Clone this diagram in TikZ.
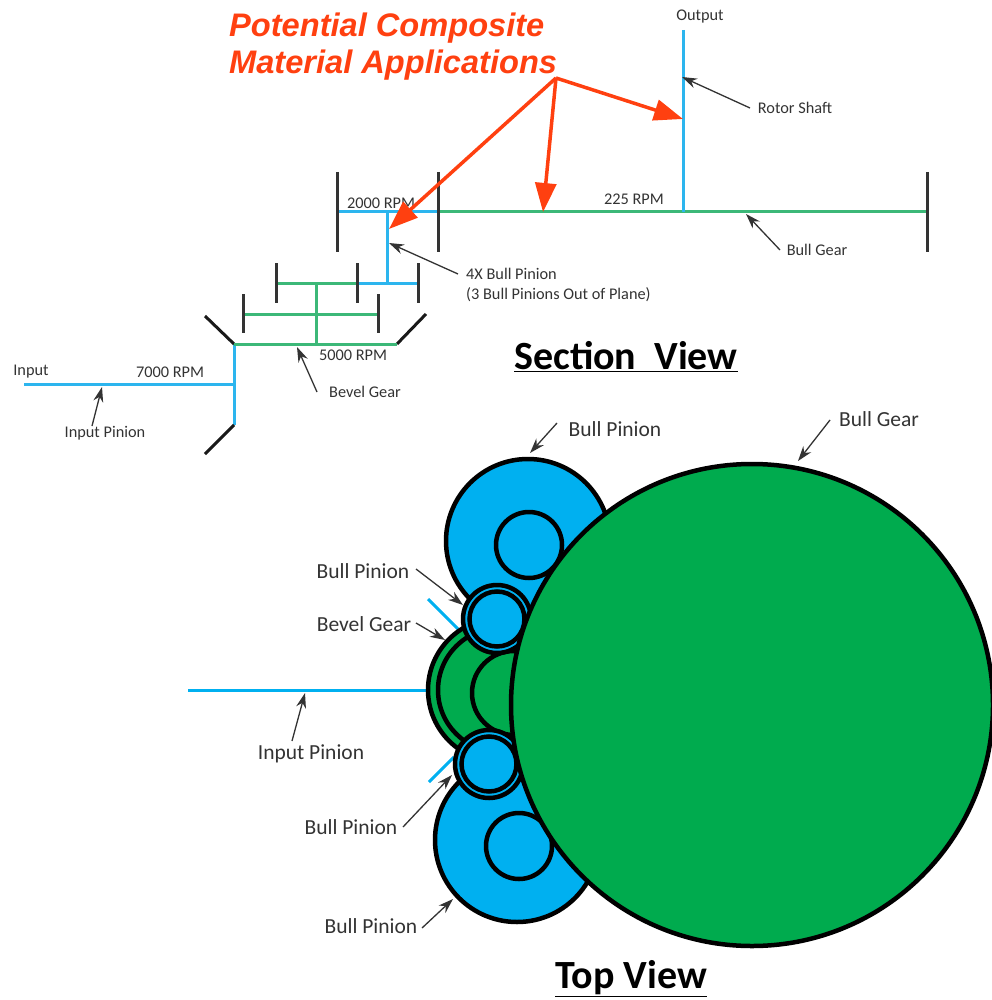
\documentclass[tikz,border=0pt]{standalone}
\usepackage{fontspec}
\setmainfont{Carlito}
\newfontfamily\headfont{Liberation Sans}
\usetikzlibrary{arrows.meta}
\definecolor{skyb}{HTML}{00B0F0}
\definecolor{gearg}{HTML}{00AB4E}
\definecolor{shaftb}{HTML}{2CB5EE}
\definecolor{shaftg}{HTML}{3CB878}
\definecolor{redo}{HTML}{FF4010}
\definecolor{labelc}{HTML}{333333}
\tikzset{
  x=1pt,y=-1pt,
  blueline/.style={draw=shaftb,line width=3pt},
  greenline/.style={draw=shaftg,line width=3pt},
  plate/.style={draw=black!80,line width=3pt},
  smalllab/.style={text=labelc,font=\fontsize{16.3}{19}\selectfont,inner sep=0pt,align=left},
  biglab/.style={text=labelc,font=\fontsize{21.5}{25}\selectfont,inner sep=0pt},
  titlelab/.style={text=black,font=\fontsize{40}{44}\selectfont\bfseries,inner sep=0pt},
  headlab/.style={text=redo,font=\headfont\fontsize{32.6}{38}\selectfont\bfseries\itshape,inner sep=0pt,align=left},
  leader/.style={draw=black!80,line width=1.3pt,-{Stealth[length=15pt,width=10pt]}},
  redarrow/.style={draw=redo,line width=3.5pt,-{Triangle[length=29pt,width=21pt]}},
  gearb/.style={draw=black,line width=4.5pt,fill=skyb},
  gearf/.style={draw=black,line width=4.5pt,fill=gearg},
}
\begin{document}
\begin{tikzpicture}
\useasboundingbox (0,0) rectangle (991,1000);
% ---------- section view
\draw[blueline] (24,384) -- (234,384);
\draw[blueline] (234,344) -- (234,425);
\draw[plate,draw=black!90] (205,316) -- (234,344);
\draw[plate,draw=black!90] (234,425) -- (205,454);
\draw[plate,draw=black!90] (397,344) -- (426,314);
\draw[greenline] (234,344) -- (397,344);
\draw[greenline] (316,283) -- (316,344);
\draw[greenline] (243,314) -- (378,314);
\draw[greenline] (276,283) -- (357,283);
\draw[blueline] (357,283) -- (418,283);
\draw[blueline] (387,212) -- (387,283);
\draw[blueline] (337,212) -- (438,212);
\draw[greenline] (438,212) -- (927,212);
\draw[blueline] (683,30) -- (683,212);
\foreach \xx/\ya/\yb in {243/294/333,378/294/333,276/263/303,357/263/303,418/263/303,337/172/252,438/172/252,927/172/252}
  \draw[plate] (\xx,\ya) -- (\xx,\yb);
% ---------- top view
\draw[blueline,draw=skyb] (188,690) -- (428,690);
\draw[blueline,draw=skyb] (428,599) -- (458,629);
\draw[blueline,draw=skyb] (429,782) -- (454,757);
\node[gearb,circle,minimum size=164pt,inner sep=0pt] (upbig) at (528,541) {};
\node[gearb,circle,minimum size=164pt,inner sep=0pt] (lowbig) at (517,840) {};
\node[gearb,circle,minimum size=66pt,inner sep=0pt] (upsmall) at (529,545) {};
\node[gearb,circle,minimum size=66pt,inner sep=0pt] (lowsmall) at (519,846) {};
\node[gearf,circle,minimum size=144pt,inner sep=0pt] (bevelo) at (500,690) {};
\node[gearf,circle,minimum size=124pt,inner sep=0pt] (bevelm) at (500,690) {};
\node[gearf,circle,minimum size=84pt,inner sep=0pt] (beveli) at (514,693) {};
\node[gearb,circle,minimum size=68pt,inner sep=0pt] (pinup) at (497,619) {};
\node[gearb,circle,minimum size=55pt,inner sep=0pt] (pinupi) at (497,619) {};
\node[gearb,circle,minimum size=68pt,inner sep=0pt] (pinlow) at (489,764) {};
\node[gearb,circle,minimum size=55pt,inner sep=0pt] (pinlowi) at (489,764) {};
\node[gearf,circle,minimum size=482pt,inner sep=0pt] (bull) at (752,705) {};
% ---------- text
\node[headlab,anchor=west] (head1) at (229,28) {Potential Composite};
\node[headlab,anchor=west] (head2) at (229,65) {Material Applications};
\node[smalllab] (output) at (700,17) {Output};
\node[smalllab] (rotor) at (795,108) {Rotor Shaft};
\node[smalllab] (rpm2000) at (381,203) {2000 RPM};
\node[smalllab] (rpm225) at (634,199) {225 RPM};
\node[smalllab] (bullg) at (817,250) {Bull Gear};
\node[smalllab,anchor=west] (four) at (466,274) {4X Bull Pinion};
\node[smalllab,anchor=west] (three) at (466,295) {(3 Bull Pinions Out of Plane)};
\node[smalllab] (rpm5000) at (353,355) {5000 RPM};
\node[smalllab] (bevels) at (365,392) {Bevel Gear};
\node[smalllab] (input) at (31,372) {Input};
\node[smalllab] (rpm7000) at (170,372) {7000 RPM};
\node[smalllab] (inputp) at (105,433) {Input Pinion};
\node[titlelab] (section) at (626,357) {\underline{Section\ \ View}};
\node[titlelab] (top) at (631,979) {\underline{Top View}};
\node[biglab] (tbp1) at (615,429) {Bull Pinion};
\node[biglab] (tbg) at (879,419) {Bull Gear};
\node[biglab] (tbp2) at (363,571) {Bull Pinion};
\node[biglab] (tbv) at (364,624) {Bevel Gear};
\node[biglab] (tip) at (311,754) {Input Pinion};
\node[biglab] (tbp3) at (351,827) {Bull Pinion};
\node[biglab] (tbp4) at (371,926) {Bull Pinion};
% ---------- connector anchors
\coordinate (apex) at (556,78);
\coordinate (redA) at (389,229);
\coordinate (redB) at (543,212);
\coordinate (redC) at (683,119);
\coordinate (t1) at (750,108); \coordinate (h1) at (682,77);
\coordinate (t2) at (780,250); \coordinate (h2) at (746,214);
\coordinate (t3) at (458,274); \coordinate (h3) at (389,243);
\coordinate (t4) at (317,392); \coordinate (h4) at (297,347);
\coordinate (t5) at (92,426); \coordinate (h5) at (102,387);
\coordinate (t6) at (557,423); \coordinate (h6) at (530,453);
\coordinate (t7) at (830,420); \coordinate (h7) at (798,461);
\coordinate (t8) at (416,569); \coordinate (h8) at (463,605);
\coordinate (t9) at (416,623); \coordinate (h9) at (445,640);
\coordinate (t10) at (292,741); \coordinate (h10) at (305,693);
\coordinate (t11) at (403,827); \coordinate (h11) at (452,775);
\coordinate (t12) at (422,928); \coordinate (h12) at (453,899);
\foreach \n in {1,...,12} \draw[leader] (t\n) -- (h\n);
\draw[redarrow] (apex) -- (redA);
\draw[redarrow] (apex) -- (redB);
\draw[redarrow] (apex) -- (redC);
\end{tikzpicture}
\end{document}
